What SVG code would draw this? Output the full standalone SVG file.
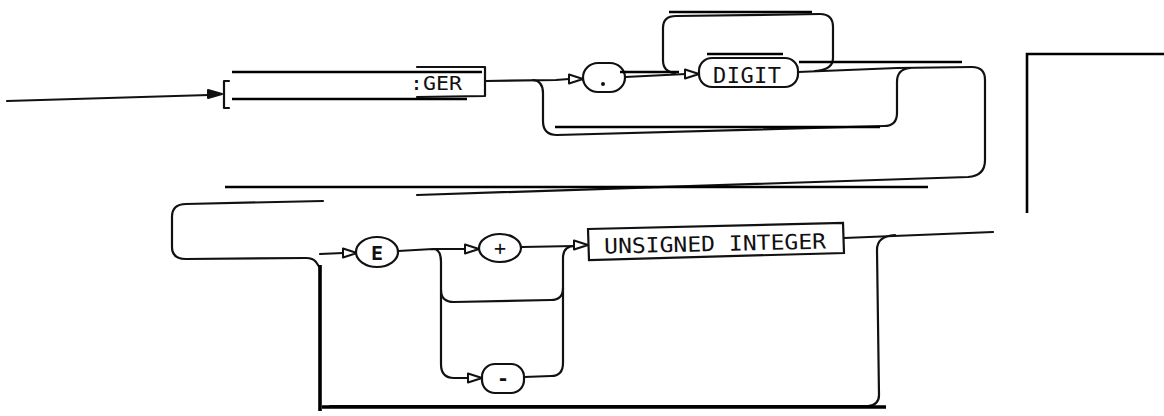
<svg xmlns="http://www.w3.org/2000/svg" xmlns:xlink="http://www.w3.org/1999/xlink" width="1164" height="416" viewBox="0 0 1164 416">
<style>
.w{fill:none;stroke:#111;stroke-width:2.2;stroke-linecap:round;stroke-linejoin:round}
.nd{fill:#fff;stroke:#111;stroke-width:2.2}
.ov{fill:none;stroke:#000;stroke-width:2.6}
.ovt{fill:none;stroke:#000;stroke-width:3.6}
.t{font-family:"DejaVu Sans Mono","Liberation Mono",monospace;fill:#111}
</style>
<defs>
<path id="arr" d="M-14,-4.5 L0,0 L-14,4.5 Z" fill="#fff" stroke="#111" stroke-width="2" stroke-linejoin="round"/>
</defs>
<rect width="1164" height="416" fill="#fff"/>
<g id="connectors">
<path class="w" d="M7,101 L209,95"/>
<path d="M208,90 L222,94 L208,98 Z" fill="#111" stroke="#111" stroke-width="2" stroke-linejoin="round"/>
<path class="w" d="M486,81 L556,80 L569,79"/>
<use xlink:href="#arr" x="583" y="79"/>
<path class="w" d="M625,77 L686,74"/>
<use xlink:href="#arr" x="699" y="74"/>
<path class="w" d="M675,73 Q663,72 663,60 L663,28 Q663,16 676,16 L820,14 Q833,14 833,27 L833,58 Q833,70 815,71"/>
<path class="w" d="M798,72 L897,68 L972,67 Q985,67 985,80 L985,160 Q985,176 968,177 L417,195"/>
<path class="w" d="M533,80 Q543,81 543,93 L543,121 Q543,135 557,135 L884,126 Q897,126 897,113 L897,82 Q897,69 910,68"/>
<path class="w" d="M323,201 L186,204 Q172,204 172,217 L172,247 Q172,259 186,259 L306,258 Q313,258 316,262 L320,268"/>
<path class="w" d="M320,254 L343,253"/>
<use xlink:href="#arr" x="357" y="253"/>
<path class="w" d="M398,251 L433,249 Q441,249 441,262 L441,364 Q441,378 454,378 L469,378"/>
<use xlink:href="#arr" x="482" y="378"/>
<path class="w" d="M433,249 L466,249"/>
<use xlink:href="#arr" x="479" y="249"/>
<path class="w" d="M441,290 Q441,302 454,302 L551,300 Q563,300 563,288"/>
<path class="w" d="M524,377 L551,376 Q563,376 563,363 L563,258 Q563,246 575,246"/>
<path class="w" d="M522,247 L575,246"/>
<use xlink:href="#arr" x="588" y="245"/>
<path class="w" d="M844,238 L993,232"/>
<path class="w" d="M895,235 Q877,236 877,250 L879,395 Q879,405 868,406 L330,406"/>
</g>
<g id="n-uint-top">
<path class="w" d="M229,81 L224,81 L224,108 L229,108"/>
<path class="w" d="M417,67 L485,67 L485,96 L417,97"/>
<text class="t" x="410" y="90" font-size="19" textLength="52" lengthAdjust="spacingAndGlyphs">:GER</text>
</g>
<g id="n-dot">
<rect class="nd" x="583" y="63" width="42" height="29" rx="15"/>
<circle cx="603" cy="84" r="2" fill="#111"/>
</g>
<g id="n-digit">
<rect class="nd" x="699" y="58" width="99" height="29" rx="13"/>
<text class="t" x="713" y="83" font-size="22" textLength="68" lengthAdjust="spacing">DIGIT</text>
</g>
<g id="n-e">
<ellipse class="nd" cx="377" cy="252" rx="21" ry="15"/>
<text class="t" x="377" y="259.5" font-size="20" font-weight="bold" text-anchor="middle">E</text>
</g>
<g id="n-plus">
<ellipse class="nd" cx="500" cy="248" rx="21" ry="14"/>
<text class="t" x="500" y="255" font-size="20" text-anchor="middle">+</text>
</g>
<g id="n-uint">
<polygon class="nd" points="588,229 843,223 844,253 589,260"/>
<text class="t" x="604" y="251" font-size="21" textLength="222" lengthAdjust="spacingAndGlyphs" transform="rotate(-1.3 716 241)">UNSIGNED INTEGER</text>
</g>
<g id="n-minus">
<rect class="nd" x="482" y="364" width="42" height="29" rx="13"/>
<text class="t" x="503" y="385" font-size="20" font-weight="bold" text-anchor="middle">-</text>
</g>
<g id="overlay">
<path class="ov" d="M232,72 H482 M232,99 H467 M669,12 H812 M707,54 H783 M620,72 H679 M799,62 H962 M555,127 H880 M225,187 H928"/>
<path class="ov" d="M1027,213 V54 H1164"/>
<path class="ovt" d="M320,265 V411 M322,407 H886"/>
</g>
</svg>
